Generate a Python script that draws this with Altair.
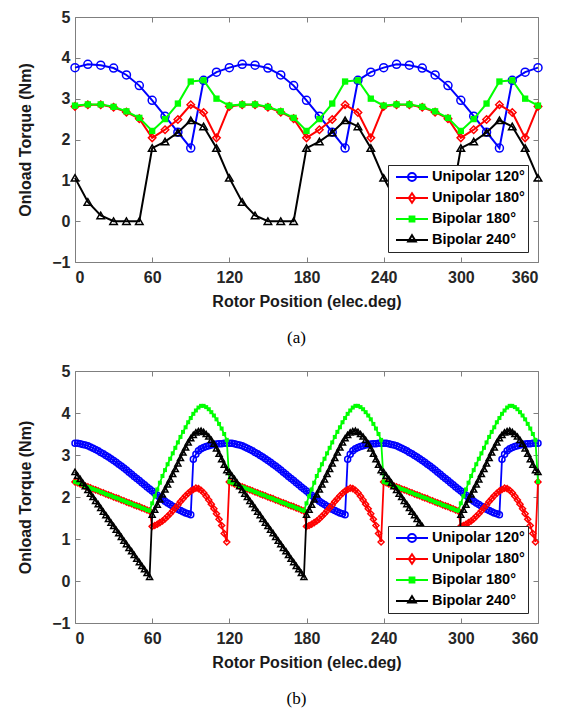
import altair as alt
import pandas as pd

SERIES = ["Unipolar 120°", "Unipolar 180°", "Bipolar 180°", "Bipolar 240°"]
COLORS = ["#0000ff", "#ff0000", "#00ff00", "#000000"]
X_TICKS = [0, 60, 120, 180, 240, 300, 360]
Y_TICKS = [-1, 0, 1, 2, 3, 4, 5]
X_TITLE = "Rotor Position (elec.deg)"
Y_TITLE = "Onload Torque (Nm)"

# ---- panel (a): samples every 10 elec.deg, one 120-deg period
A_PERIOD_U120 = [3.76, 3.84, 3.82, 3.75, 3.58, 3.32, 2.96, 2.57, 2.18, 1.79, 3.45, 3.65]
A_PERIOD_U180 = [2.81, 2.85, 2.85, 2.79, 2.67, 2.51, 2.04, 2.24, 2.49, 2.85, 2.66, 2.04]
A_PERIOD_B180 = [2.83, 2.86, 2.86, 2.80, 2.69, 2.53, 2.21, 2.50, 2.88, 3.42, 3.45, 3.00]
A_PERIOD_B240 = [1.06, 0.47, 0.14, 0.00, 0.00, 0.00, 1.79, 1.95, 2.17, 2.47, 2.32, 1.79]
A_DEG = list(range(0, 361, 10))

# ---- panel (b): samples every 2 elec.deg, one 120-deg period
B_PERIOD_U120 = [3.28, 3.28, 3.27, 3.25, 3.24, 3.22, 3.19, 3.16, 3.13, 3.10,
                 3.06, 3.03, 2.99, 2.95, 2.91, 2.87, 2.83, 2.78, 2.74, 2.69,
                 2.64, 2.59, 2.54, 2.49, 2.44, 2.39, 2.34, 2.29, 2.24, 2.19,
                 2.14, 2.09, 2.04, 1.99, 1.95, 1.90, 1.86, 1.82, 1.78, 1.75,
                 1.71, 1.68, 1.65, 1.62, 1.60, 1.58, 2.90, 3.02, 3.10, 3.15,
                 3.18, 3.20, 3.22, 3.24, 3.25, 3.26, 3.27, 3.27, 3.28, 3.28]
B_PERIOD_U180 = [2.36, 2.34, 2.31, 2.29, 2.26, 2.24, 2.22, 2.19, 2.17, 2.15,
                 2.12, 2.10, 2.07, 2.05, 2.03, 2.00, 1.98, 1.96, 1.93, 1.91,
                 1.88, 1.86, 1.84, 1.81, 1.79, 1.77, 1.74, 1.72, 1.69, 1.67,
                 1.30, 1.32, 1.35, 1.39, 1.43, 1.48, 1.54, 1.60, 1.67, 1.74,
                 1.81, 1.89, 1.96, 2.03, 2.09, 2.14, 2.18, 2.21, 2.20, 2.16,
                 2.10, 2.02, 1.93, 1.83, 1.72, 1.60, 1.47, 1.32, 1.13, 0.93]
B_PERIOD_B180 = [2.36, 2.34, 2.31, 2.29, 2.26, 2.24, 2.22, 2.19, 2.17, 2.15,
                 2.12, 2.10, 2.07, 2.05, 2.03, 2.00, 1.98, 1.96, 1.93, 1.91,
                 1.88, 1.86, 1.84, 1.81, 1.79, 1.77, 1.74, 1.72, 1.69, 1.67,
                 1.85, 2.02, 2.18, 2.34, 2.50, 2.64, 2.78, 2.91, 3.04, 3.17,
                 3.30, 3.43, 3.55, 3.66, 3.78, 3.88, 3.98, 4.06, 4.13, 4.17,
                 4.17, 4.14, 4.09, 4.02, 3.94, 3.85, 3.74, 3.63, 3.50, 3.36]
B_PERIOD_B240 = [2.60, 2.51, 2.43, 2.34, 2.26, 2.17, 2.08, 2.00, 1.91, 1.83,
                 1.74, 1.65, 1.57, 1.48, 1.39, 1.31, 1.22, 1.14, 1.05, 0.96,
                 0.88, 0.79, 0.71, 0.62, 0.53, 0.45, 0.36, 0.28, 0.19, 0.10,
                 1.58, 1.70, 1.82, 1.94, 2.06, 2.18, 2.30, 2.42, 2.55, 2.67,
                 2.80, 2.93, 3.06, 3.18, 3.30, 3.40, 3.48, 3.54, 3.57, 3.58,
                 3.55, 3.50, 3.44, 3.36, 3.27, 3.16, 3.03, 2.90, 2.77, 2.64]
B_DEG = list(range(0, 361, 2))


def three_periods(period):
    # the waveform repeats every 120 elec.deg; the last sample (360) equals the first
    return period * 3 + period[:1]


A_VALUES = [three_periods(p) for p in (A_PERIOD_U120, A_PERIOD_U180, A_PERIOD_B180, A_PERIOD_B240)]
B_VALUES = [three_periods(p) for p in (B_PERIOD_U120, B_PERIOD_U180, B_PERIOD_B180, B_PERIOD_B240)]

# legend symbols: line segment with marker (unit box -1..1)
LEGEND_PATHS = [
    "M-1,0H1M-0.25,0A0.25,0.25,0,1,0,0.25,0A0.25,0.25,0,1,0,-0.25,0Z",
    "M-1,0H1M0,-0.3L0.2,0L0,0.3L-0.2,0Z",
    "M-1,0H1M-0.15,-0.15H0.15V0.15H-0.15ZM-0.15,-0.05H0.15M-0.15,0.05H0.15",
    "M-1,0H1M0,-0.3L0.24,0.1L-0.24,0.1Z",
]
MARKERS = ["circle", "diamond", "square", "triangle-up"]
FILLED = [False, False, True, False]

FONT = "Liberation Sans"


def make_df(deg, values):
    rows = []
    for s, vals in zip(SERIES, values):
        for d, v in zip(deg, vals):
            rows.append({"deg": d, "torque": v, "series": s})
    return pd.DataFrame(rows)


def panel(df, height, msize, lw, caption):
    xs = alt.Scale(domain=[0, 360], nice=False, zero=False)
    ys = alt.Scale(domain=[-1, 5], nice=False, zero=False)

    ax_x_main = alt.Axis(values=X_TICKS, orient="bottom", ticks=False, domain=False, grid=False,
                         title=X_TITLE, labelPadding=7, titlePadding=8)
    ax_y_main = alt.Axis(values=Y_TICKS, orient="left", ticks=False, domain=False, grid=False,
                         title=Y_TITLE, labelPadding=5, titlePadding=18)

    def inward(orient, values):
        return alt.Axis(values=values, orient=orient, labels=False, domain=False, grid=False,
                        ticks=True, tickSize=5, offset=-5, title=None, tickColor="#7f7f7f")

    axes = {
        (0, "line"): (ax_x_main, ax_y_main),
        (0, "pts"): (inward("bottom", X_TICKS), inward("left", Y_TICKS)),
        (1, "line"): (inward("top", X_TICKS), inward("right", Y_TICKS)),
    }

    base = alt.Chart(df)
    layers = []
    for i, s in enumerate(SERIES):
        sub = base.transform_filter(alt.datum.series == s)
        for kind in ("line", "pts"):
            axx, axy = axes.get((i, kind), (None, None))
            enc = dict(
                x=alt.X("deg:Q", scale=xs, axis=axx),
                y=alt.Y("torque:Q", scale=ys, axis=axy),
            )
            if kind == "line":
                layers.append(sub.mark_line(color=COLORS[i], strokeWidth=lw).encode(**enc))
            else:
                layers.append(sub.mark_point(shape=MARKERS[i], filled=FILLED[i], color=COLORS[i],
                                             size=msize[i], strokeWidth=1.5, opacity=1).encode(**enc))

    leg = alt.Legend(orient="bottom-right", offset=10, title=None, strokeColor="#262626",
                     fillColor="white", padding=3, symbolOffset=4, symbolSize=1024,
                     symbolStrokeWidth=2, labelOffset=3, clipHeight=18, rowPadding=3,
                     labelFont=FONT, labelFontWeight="bold", labelFontSize=14.5,
                     labelColor="black", labelLimit=200)
    legend_layer = base.transform_filter("false").mark_point(filled=False, opacity=1).encode(
        x=alt.X("deg:Q", scale=xs, axis=None),
        y=alt.Y("torque:Q", scale=ys, axis=None),
        color=alt.Color("series:N", scale=alt.Scale(domain=SERIES, range=COLORS), legend=leg),
        shape=alt.Shape("series:N", scale=alt.Scale(domain=SERIES, range=LEGEND_PATHS), legend=leg),
    )
    layers.append(legend_layer)

    return alt.layer(*layers).resolve_axis(x="independent", y="independent").properties(
        width=463, height=height,
        title=alt.TitleParams(text=caption, orient="bottom", font="Liberation Serif", fontSize=17,
                              fontWeight="normal", color="black", offset=21, anchor="middle",
                              frame="group", dx=-10),
    )


df_a = make_df(A_DEG, A_VALUES)
df_b = make_df(B_DEG, B_VALUES)

chart_a = panel(df_a, 245, [64, 56, 40, 56], 2, "(a)")
chart_b = panel(df_b, 252, [36, 36, 16, 36], 1.8, "(b)")

chart = alt.vconcat(chart_a, chart_b, spacing=15).resolve_scale(
    color="independent", shape="independent"
).resolve_legend(
    color="independent", shape="independent"
).properties(
    padding={"left": 9, "top": 0, "right": 0, "bottom": 0}
).configure_view(stroke="#7f7f7f", strokeWidth=1).configure_axis(
    labelFont=FONT, labelFontSize=16, labelFontWeight="bold", labelColor="#262626",
    titleFont=FONT, titleFontSize=16, titleFontWeight="bold", titleColor="#1a1a1a",
)

chart.save("out.html", embed_options={"renderer": "svg", "actions": False})
